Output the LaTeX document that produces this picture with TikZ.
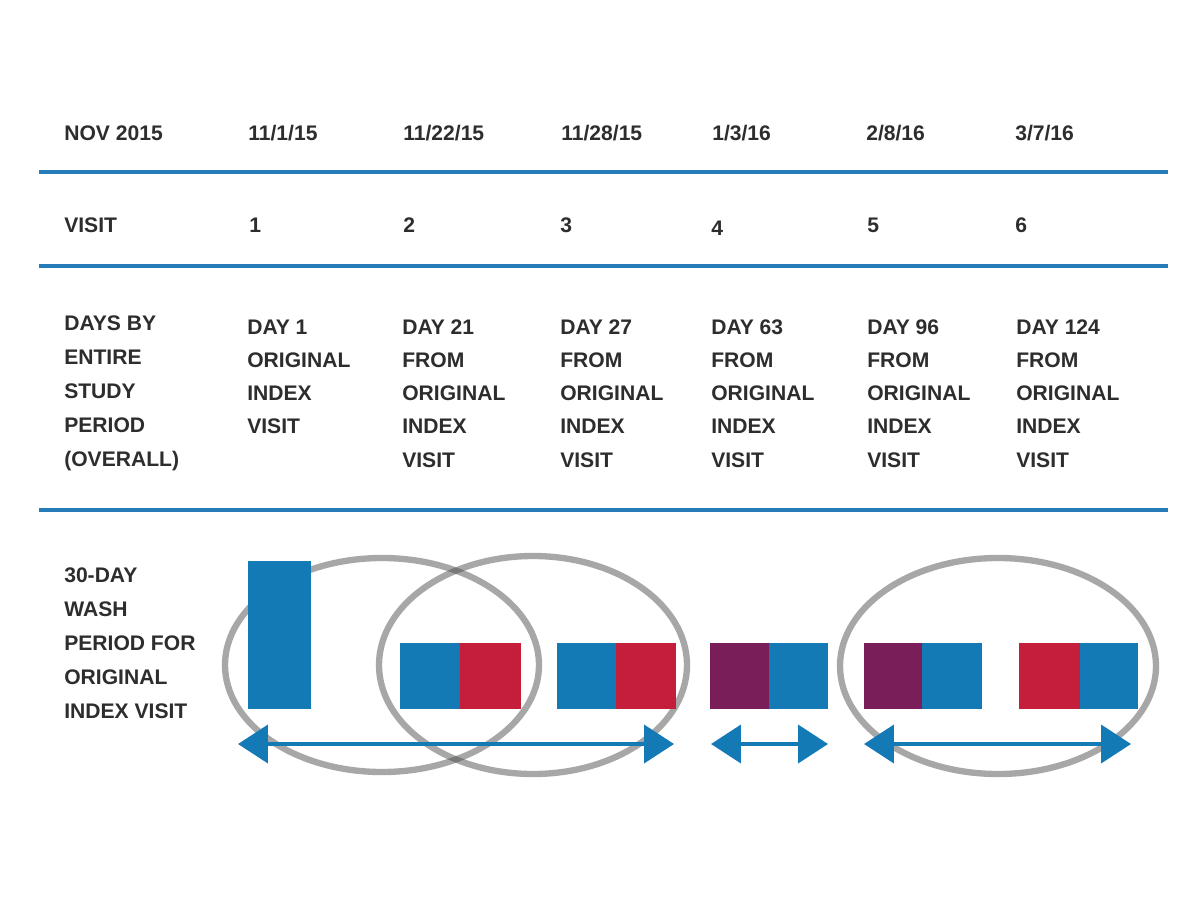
\documentclass[tikz,border=0pt]{standalone}
\usepackage{fontspec}
\setmainfont{Liberation Sans}
\usetikzlibrary{arrows.meta}
\definecolor{boxblue}{RGB}{20,122,182}
\definecolor{boxred}{RGB}{196,30,58}
\definecolor{boxpurple}{RGB}{122,30,90}
\definecolor{ruleblue}{RGB}{38,124,185}
\definecolor{txtgray}{RGB}{45,45,45}
\definecolor{ringgray}{RGB}{70,70,70}
\tikzset{
  txt/.style={anchor=base west, inner sep=0pt, text=txtgray, font=\fontsize{15}{18}\selectfont\bfseries},
  rule/.style={draw=ruleblue, line width=3pt},
  ring/.style={draw=ringgray, draw opacity=0.47, line width=4.5pt},
  span/.style={draw=boxblue, line width=2.85pt, {Triangle[length=21.3pt,width=27pt]}-{Triangle[length=21.3pt,width=27pt]}},
}
\begin{document}
\begin{tikzpicture}[x=0.025cm,y=-0.025cm]
\useasboundingbox (0,0) rectangle (1200,900);
\fill[white] (0,0) rectangle (1200,900);

% rules
\coordinate (r1l) at (39,172); \coordinate (r1r) at (1168,172);
\coordinate (r2l) at (39,266); \coordinate (r2r) at (1168,266);
\coordinate (r3l) at (39,510); \coordinate (r3r) at (1168,510);
\draw[rule] (r1l) -- (r1r);
\draw[rule] (r2l) -- (r2r);
\draw[rule] (r3l) -- (r3r);

% header row
\node[txt] (h0) at (64,140) {NOV 2015};
\node[txt] (h1) at (248,140) {11/1/15};
\node[txt] (h2) at (403,140) {11/22/15};
\node[txt] (h3) at (561,140) {11/28/15};
\node[txt] (h4) at (712,140) {1/3/16};
\node[txt] (h5) at (866,140) {2/8/16};
\node[txt] (h6) at (1015,140) {3/7/16};

% visit row
\node[txt] (v0) at (64,232) {VISIT};
\node[txt] (v1) at (249,232) {1};
\node[txt] (v2) at (403,232) {2};
\node[txt] (v3) at (560,232) {3};
\node[txt] (v4) at (711,235) {4};
\node[txt] (v5) at (867,232) {5};
\node[txt] (v6) at (1015,232) {6};

% days row
\foreach [count=\k] \t in {DAYS BY,ENTIRE,STUDY,PERIOD,(OVERALL)}
  \node[txt] (d0l\k) at (64,{330+34*(\k-1)}) {\t};
\foreach [count=\k] \t in {DAY 1,ORIGINAL,INDEX,VISIT}
  \node[txt] (d1l\k) at (247,{334+33.3*(\k-1)}) {\t};
\foreach [count=\k] \t in {DAY 21,FROM,ORIGINAL,INDEX,VISIT}
  \node[txt] (d2l\k) at (402,{334+33.3*(\k-1)}) {\t};
\foreach [count=\k] \t in {DAY 27,FROM,ORIGINAL,INDEX,VISIT}
  \node[txt] (d3l\k) at (560,{334+33.3*(\k-1)}) {\t};
\foreach [count=\k] \t in {DAY 63,FROM,ORIGINAL,INDEX,VISIT}
  \node[txt] (d4l\k) at (711,{334+33.3*(\k-1)}) {\t};
\foreach [count=\k] \t in {DAY 96,FROM,ORIGINAL,INDEX,VISIT}
  \node[txt] (d5l\k) at (867,{334+33.3*(\k-1)}) {\t};
\foreach [count=\k] \t in {DAY 124,FROM,ORIGINAL,INDEX,VISIT}
  \node[txt] (d6l\k) at (1016,{334+33.3*(\k-1)}) {\t};

% wash label
\foreach [count=\k] \t in {30-DAY,WASH,PERIOD FOR,ORIGINAL,INDEX VISIT}
  \node[txt] (w\k) at (64,{582+34*(\k-1)}) {\t};

% wash rings (behind boxes and arrows)
\draw[ring] (382,665) ellipse [x radius=157, y radius=107];
\draw[ring] (533,665) ellipse [x radius=154, y radius=109];
\draw[ring] (998,666) ellipse [x radius=158, y radius=108];

% boxes
\fill[boxblue] (248,561) rectangle (311,709);
\fill[boxblue] (400,643) rectangle (460,709);
\fill[boxred] (460,643) rectangle (521,709);
\fill[boxblue] (557,643) rectangle (616,709);
\fill[boxred] (616,643) rectangle (676,709);
\fill[boxpurple] (710,643) rectangle (769,709);
\fill[boxblue] (769,643) rectangle (828,709);
\fill[boxpurple] (864,643) rectangle (922,709);
\fill[boxblue] (922,643) rectangle (982,709);
\fill[boxred] (1019,643) rectangle (1080,709);
\fill[boxblue] (1080,643) rectangle (1138,709);

% span arrows
\coordinate (a1l) at (238,744); \coordinate (a1r) at (674,744);
\coordinate (a2l) at (711,744); \coordinate (a2r) at (828,744);
\coordinate (a3l) at (864,744); \coordinate (a3r) at (1131,744);
\draw[span] (a1l) -- (a1r);
\draw[span] (a2l) -- (a2r);
\draw[span] (a3l) -- (a3r);
\end{tikzpicture}
\end{document}
